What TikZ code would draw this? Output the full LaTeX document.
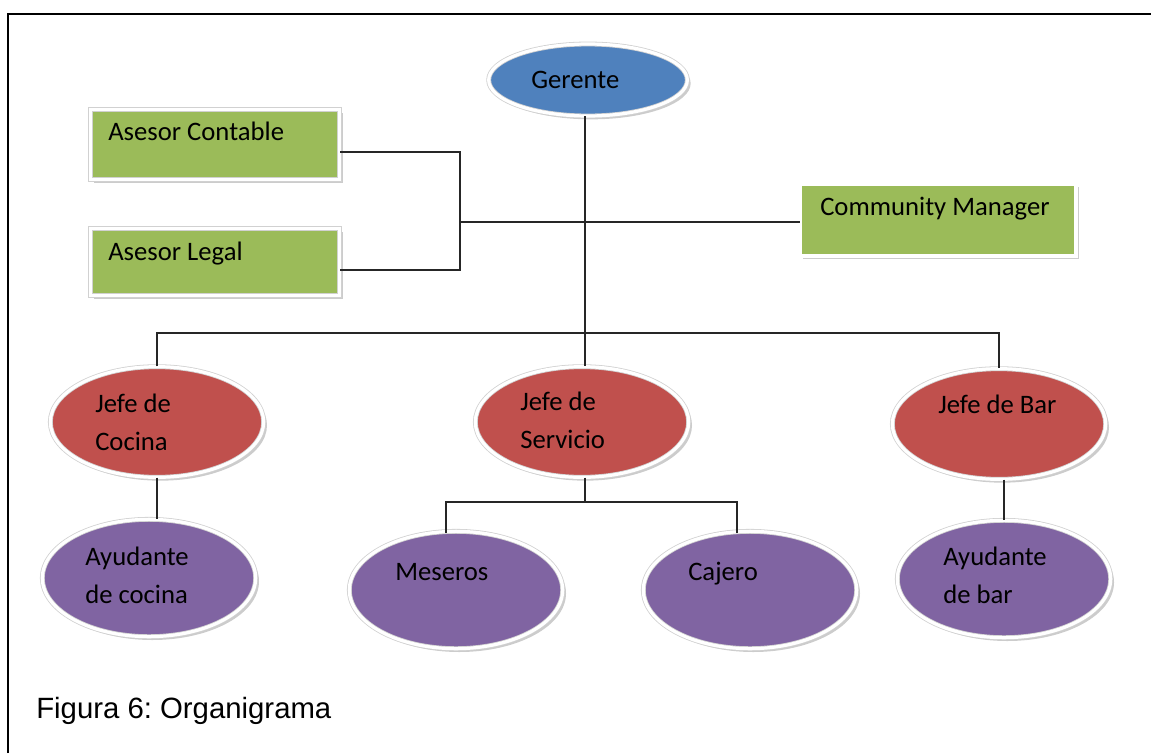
\documentclass[tikz,border=0pt]{standalone}
\usepackage{fontspec}
\setmainfont{Carlito}
\newfontfamily\capfont{Liberation Sans}
\usetikzlibrary{shapes.geometric,shadows,calc}

\definecolor{gerblue}{HTML}{4F81BD}
\definecolor{asegreen}{HTML}{9BBB59}
\definecolor{jefered}{HTML}{C0504D}
\definecolor{ayupurple}{HTML}{8064A2}

\tikzset{
  shape box/.style={draw=black!18, double=white, double distance=2.4pt, line width=0.6pt, inner sep=0pt,
    drop shadow={shadow xshift=2.5pt, shadow yshift=-2.5pt, fill=black!40}},
  oval/.style={shape box, ellipse},
  jefe/.style={oval, fill=jefered, minimum width=160pt, minimum height=83pt},
  ayud/.style={oval, fill=ayupurple, minimum width=160pt, minimum height=88pt},
  asesor/.style={shape box, rectangle, fill=asegreen, minimum width=187pt},
  lbl/.style={anchor=base west, inner sep=0pt, align=left, font=\fontsize{20}{28}\selectfont},
  link/.style={draw=black!85, line width=0.9pt}
}

\begin{document}
\begin{tikzpicture}[x=0.75pt,y=0.75pt,yscale=-1,xscale=1]
\useasboundingbox (0,0) rectangle (1151,753);

%Frame
\draw [line width=1.6pt] (8,753) -- (8,14) -- (1151,14) ;

%Shape: Ellipse [Gerente]
\node (ger) [oval, fill=gerblue, minimum width=149pt, minimum height=54pt] at (588,80) {};
%Shape: Rectangle [asesores]
\node (contable) [asesor, minimum height=53pt] at (215,144.5) {};
\node (legal) [asesor, minimum height=50pt] at (215,262) {};
\node (community) [asesor, minimum width=207pt, minimum height=54pt] at (938,220) {};
%Shape: Ellipse [jefes]
\node (cocina) [jefe] at (157,422) {};
\node (servicio) [jefe] at (582,422) {};
\node (bar) [jefe] at (999,424) {};
%Shape: Ellipse [ayudantes]
\node (aycocina) [ayud] at (149,578) {};
\node (meseros) [ayud] at (456,590) {};
\node (cajero) [ayud] at (750,590) {};
\node (aybar) [ayud] at (1004,579) {};

%Straight Lines
\coordinate (bus) at (585,333);
\coordinate (adv) at (460,222);
\coordinate (split) at (585,502);
\draw [link] (bus |- ger.south) -- (bus |- servicio.north) ;
\draw [link] (cocina.north) |- (bus) -| (bar.north) ;
\draw [link] ($(contable.east)+(0,7.5)$) -| (adv) |- ($(legal.east)+(0,8)$) ;
\draw [link] (adv) -- (adv -| community.west) ;
\draw [link] (cocina.south) -- (cocina.south |- aycocina.north) ;
\draw [link] (aybar.north |- bar.south) -- (aybar.north) ;
\draw [link] (bus |- servicio.south) -- (split) ;
\draw [link] ($(meseros.north)+(-10,2)$) |- (split) -| ($(cajero.north)+(-13,2)$) ;

% Text Node
\draw (531,88) node (tger) [lbl] {Gerente};
% Text Node
\draw (108,140) node (tcontable) [lbl] {Asesor Contable};
% Text Node
\draw (108,260) node (tlegal) [lbl] {Asesor Legal};
% Text Node
\draw (820,215) node (tcommunity) [lbl] {Community Manager};
% Text Node (base = last line)
\draw (95,450) node (tcocina) [lbl] {Jefe de\\Cocina};
% Text Node
\draw (520,448) node (tservicio) [lbl] {Jefe de\\Servicio};
% Text Node
\draw (938,413) node (tbar) [lbl] {Jefe de Bar};
% Text Node
\draw (85,603) node (taycocina) [lbl] {Ayudante\\de cocina};
% Text Node
\draw (395,580) node (tmeseros) [lbl] {Meseros};
% Text Node
\draw (688,580) node (tcajero) [lbl] {Cajero};
% Text Node
\draw (943,603) node (taybar) [lbl] {Ayudante\\de bar};
% Text Node
\draw (36,718) node (tcap) [anchor=base west, inner sep=0pt, font=\capfont\fontsize{22}{26}\selectfont] {\frenchspacing Figura 6: Organigrama};

\end{tikzpicture}
\end{document}
